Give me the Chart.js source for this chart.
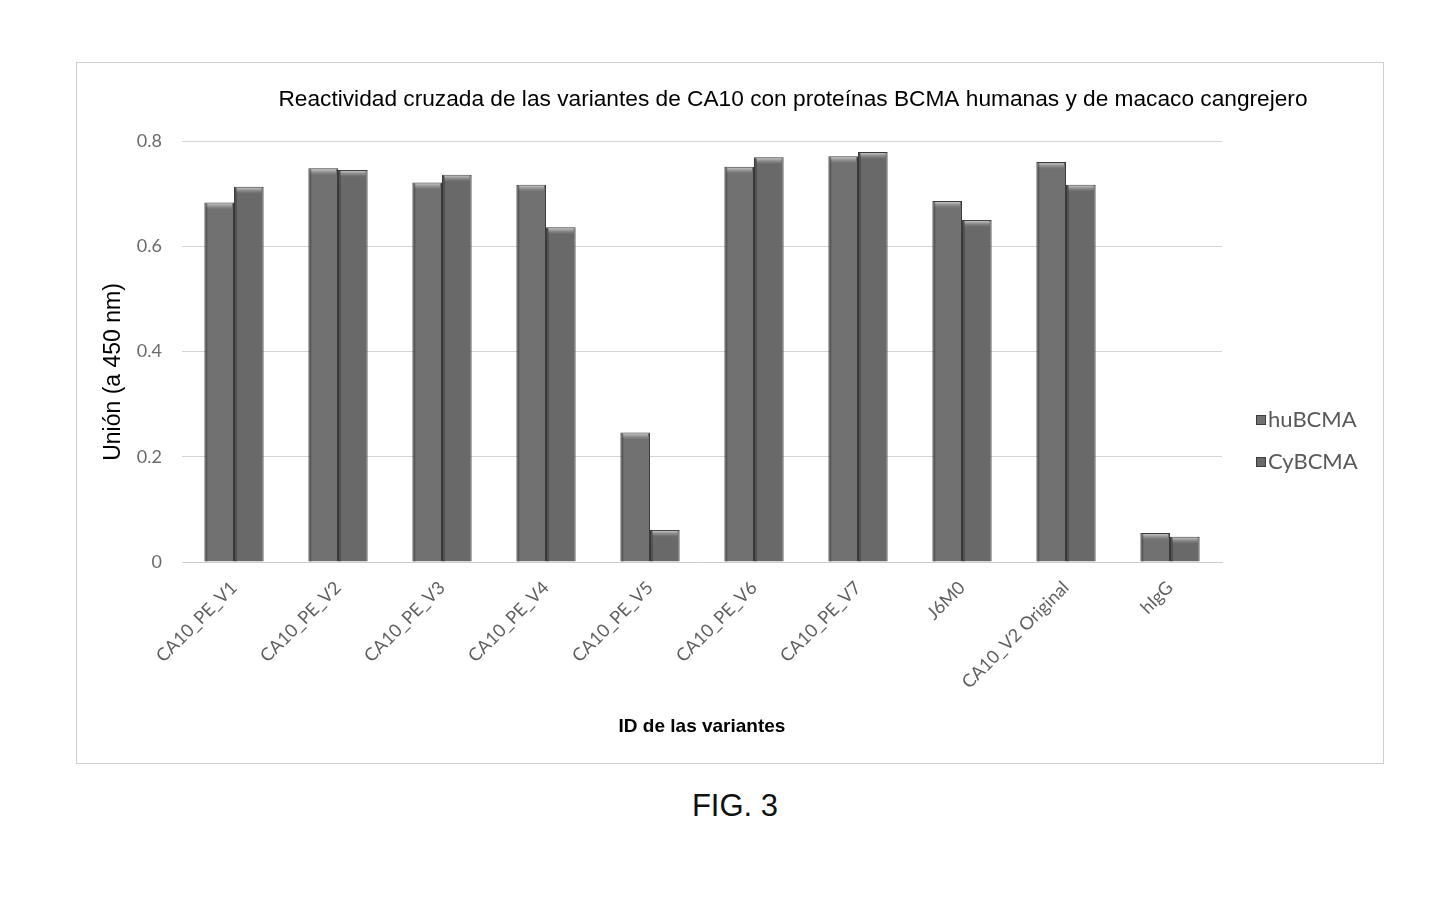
<!DOCTYPE html>
<html>
<head>
<meta charset="utf-8">
<script src="https://cdn.jsdelivr.net/npm/chart.js@4.4.1/dist/chart.umd.min.js"></script>
<style>
  html, body { margin: 0; padding: 0; background: #fff; }
  body { width: 1433px; height: 903px; position: relative; overflow: hidden; }
  #frame { position: absolute; left: 77px; top: 63px; width: 1306px; height: 700px; outline: 1px solid #cfcfcf; }
  #fig { position: absolute; left: 0; width: 1470px; top: 788px; text-align: center;
         font-family: "Liberation Sans", Arial, sans-serif; font-size: 31px; color: #111; }
</style>
</head>
<body>
<div id="frame"><canvas id="c"></canvas></div>
<div id="fig">FIG. 3</div>
<script>
const chartTitle = 'Reactividad cruzada de las variantes de CA10 con proteínas BCMA humanas y de macaco cangrejero';
const yAxisTitle = 'Unión (a 450 nm)';
const xAxisTitle = 'ID de las variantes';
const categories = ['CA10_PE_V1','CA10_PE_V2','CA10_PE_V3','CA10_PE_V4','CA10_PE_V5','CA10_PE_V6','CA10_PE_V7','J6M0','CA10_V2 Original','hIgG'];
const seriesNames = ['huBCMA', 'CyBCMA'];
const huBCMA = [0.683, 0.748, 0.721, 0.717, 0.246, 0.751, 0.771, 0.686, 0.760, 0.055];
const cyBCMA = [0.713, 0.745, 0.736, 0.636, 0.061, 0.769, 0.779, 0.650, 0.717, 0.048];
const yTicks = [0, 0.2, 0.4, 0.6, 0.8];

const barColors = ['#717171', '#696969'];

const decorPlugin = {
  id: 'decor',
  afterDatasetsDraw(chart) {
    const ctx = chart.ctx;
    ctx.save();
    chart.data.datasets.forEach((ds, di) => {
      const meta = chart.getDatasetMeta(di);
      meta.data.forEach(bar => {
        const w = bar.width;
        const x0 = bar.x - w / 2;
        const g = ctx.createLinearGradient(0, bar.y, 0, bar.y + 7);
        g.addColorStop(0, 'rgba(230,230,230,0.9)');
        g.addColorStop(1, 'rgba(160,160,160,0)');
        ctx.fillStyle = g;
        ctx.fillRect(x0 + 2, bar.y + 1, w - 4, 7);
        ctx.fillStyle = 'rgba(40,40,40,0.35)';
        ctx.fillRect(x0 + 1, bar.y + 1, 2, bar.base - bar.y - 1);
      });
    });
    ctx.restore();
  },
  afterDraw(chart) {
    const ctx = chart.ctx;
    ctx.save();
    ctx.fillStyle = '#000';
    ctx.font = '22.7px "Liberation Sans", Arial, sans-serif';
    ctx.textAlign = 'center';
    ctx.textBaseline = 'middle';
    ctx.fillText(chartTitle, 716, 37);
    ctx.save();
    ctx.translate(37, 309);
    ctx.rotate(-Math.PI / 2);
    ctx.font = '23px "Liberation Sans", Arial, sans-serif';
    ctx.fillText(yAxisTitle, 0, 0);
    ctx.restore();
    ctx.font = '22px Lato, "Open Sans", sans-serif';
    ctx.textAlign = 'left';
    chart.data.datasets.forEach((ds, i) => {
      const y = 357 + i * 42;
      ctx.fillStyle = ds.backgroundColor;
      ctx.fillRect(1179, y - 5, 10, 10);
      ctx.strokeStyle = '#3d3d3d';
      ctx.lineWidth = 1;
      ctx.strokeRect(1179.5, y - 4.5, 9, 9);
      ctx.fillStyle = '#595959';
      ctx.fillText(ds.label, 1191, y);
    });
    ctx.restore();
  }
};

new Chart(document.getElementById('c'), {
  type: 'bar',
  data: {
    labels: categories,
    datasets: [
      { label: seriesNames[0], data: huBCMA, backgroundColor: barColors[0], borderColor: '#3a3a3a', borderWidth: 1 },
      { label: seriesNames[1], data: cyBCMA, backgroundColor: barColors[1], borderColor: '#3a3a3a', borderWidth: 1 }
    ]
  },
  options: {
    responsive: true,
    maintainAspectRatio: false,
    animation: false,
    datasets: { bar: { barPercentage: 1.0, categoryPercentage: 0.57 } },
    layout: { padding: { top: 78, right: 161, left: 0, bottom: 0 } },
    plugins: { legend: { display: false }, title: { display: false }, tooltip: { enabled: false } },
    scales: {
      x: {
        grid: { display: false, drawTicks: false },
        border: { display: true, color: '#cfcfcf' },
        ticks: {
          autoSkip: false, maxRotation: 45, minRotation: 45, padding: 15,
          color: '#5f5f5f', font: { family: 'Lato, "Open Sans", sans-serif', size: 18 }
        },
        title: {
          display: true, text: xAxisTitle, color: '#000',
          font: { family: '"Liberation Sans", Arial, sans-serif', size: 19, weight: 'bold' },
          padding: { top: 0, bottom: 25 }
        },
        afterFit(scale) { scale.height = 201; }
      },
      y: {
        min: 0, max: 0.8,
        afterBuildTicks(scale) { scale.ticks = yTicks.map(v => ({ value: v })); },
        grid: { color: '#d4d4d4', drawTicks: false },
        border: { display: false },
        ticks: {
          padding: 20, color: '#6a6a6a',
          font: { family: 'Lato, "Open Sans", sans-serif', size: 18 }
        },
        title: { display: false },
        afterFit(scale) { scale.width = 105; }
      }
    }
  },
  plugins: [decorPlugin]
});
</script>
</body>
</html>
